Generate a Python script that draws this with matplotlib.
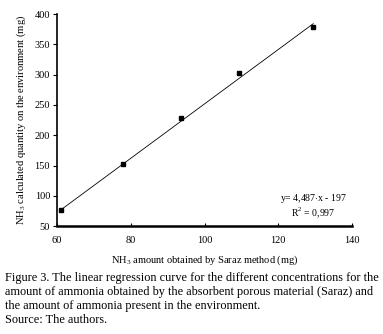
import matplotlib
matplotlib.use("Agg")
import matplotlib.pyplot as plt
import numpy as np

# values
saraz_mg = [61.0, 77.8, 93.6, 109.4, 129.5]
environment_mg = [76, 153, 228, 303, 379]
slope, intercept = 4.487, -197.0
x_ticks = [60, 80, 100, 120, 140]
y_ticks = [50, 100, 150, 200, 250, 300, 350, 400]

plt.rcParams['font.family'] = ['Liberation Serif', 'DejaVu Serif']
plt.rcParams['mathtext.fontset'] = 'custom'
plt.rcParams['mathtext.rm'] = 'Liberation Serif'

fig = plt.figure(figsize=(3.83, 3.34), dpi=100)
ax = fig.add_axes([0.149, 0.323, 0.770, 0.635])

# trend line over the range of the data
xs = np.array([min(saraz_mg), max(saraz_mg)])
ax.plot(xs, slope * xs + intercept, color='black', lw=0.6)
ax.plot(saraz_mg, environment_mg, 's', color='black', markersize=3.5)

ax.set_xlim(60, 140)
ax.set_ylim(50, 400)
ax.set_xticks(x_ticks)
ax.set_yticks(y_ticks)
ax.tick_params(axis='x', direction='in', length=2.5, width=0.8, labelsize=7.5, pad=7)
ax.tick_params(axis='y', direction='out', length=3, width=0.8, labelsize=7.5, pad=2)

for side in ['top', 'right']:
    ax.spines[side].set_visible(False)
ax.spines['left'].set_linewidth(1.2)
ax.spines['bottom'].set_linewidth(1.8)

ax.set_xlabel('NH$_3$ amount obtained by Saraz method (mg)', fontsize=7.5, labelpad=6)
ax.set_ylabel('NH$_3$ calculated quantity on the environment (mg)', fontsize=7.6, labelpad=5)

ax.text(0.87, 0.095, 'y= 4,487$\\cdot$x - 197\nR$^2$ = 0,997', transform=ax.transAxes,
        fontsize=7, ha='center', va='center', linespacing=1.1)

caption = ("Figure 3. The linear regression curve for the different concentrations for the\n"
           "amount of ammonia obtained by the absorbent porous material (Saraz) and\n"
           "the amount of ammonia present in the environment.\n"
           "Source: The authors.")
fig.text(0.013, 0.105, caption, fontsize=8.8, ha='left', va='center', linespacing=1.2)

fig.savefig('out.png', dpi=100)
